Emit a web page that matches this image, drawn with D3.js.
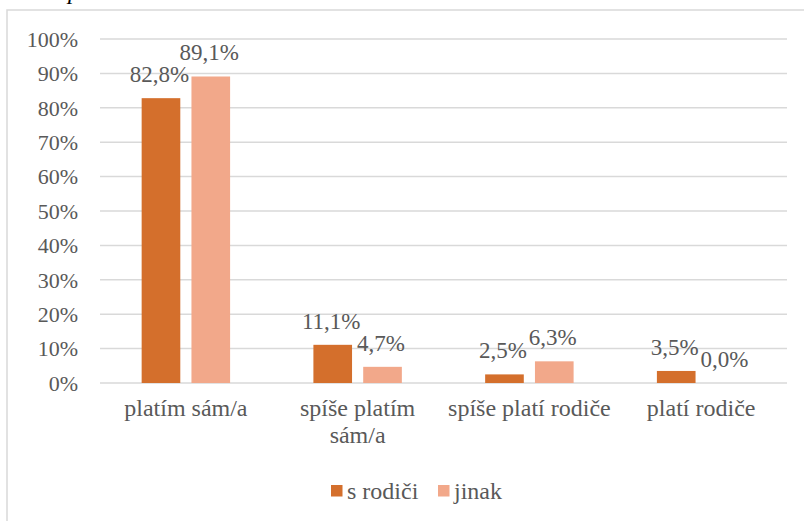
<!DOCTYPE html>
<html><head><meta charset="utf-8">
<script src="https://cdn.jsdelivr.net/npm/d3@7"></script>
<style>
@font-face { font-family: "ChartSerif"; src: local("Liberation Serif"), local("LiberationSerif"), local("LiberationSerif-Regular"), local("Times New Roman"), local("Tinos"); font-style: normal; }
@font-face { font-family: "ChartSerif"; src: local("Liberation Serif Italic"), local("LiberationSerif-Italic"); font-style: italic; }
svg text, svg tspan { font-family: "Liberation Serif", "ChartSerif", "Times New Roman", Tinos, FreeSerif !important; }
</style>
</head>
<body style="margin:0"><svg id="c" width="804" height="521"></svg>
<script>
const categories = [["platím sám/a"], ["spíše platím", "sám/a"], ["spíše platí rodiče"], ["platí rodiče"]];
const seriesNames = ["s rodiči", "jinak"];
const sRodici = [82.8, 11.1, 2.5, 3.5];
const jinak = [89.1, 4.7, 6.3, 0.0];
const yTicks = [0, 10, 20, 30, 40, 50, 60, 70, 80, 90, 100];
const colors = ["#D46F2C", "#F2A88A"];

const svg = d3.select("#c");
const fsTick = 22, fsLab = 23, fsCat = 24, fsLeg = 24;
const FONT = '"Liberation Serif", "ChartSerif", "Times New Roman", Tinos, FreeSerif';
const TXT = "#595959";

// outer border
svg.append("rect").attr("x", 7).attr("y", 10).attr("width", 820).attr("height", 540)
  .attr("fill", "none").attr("stroke", "#d9d9d9").attr("stroke-width", 1.5);

const pLeft = 100, pRight = 787, pTop = 39, pBottom = 383;
const x = d3.scaleBand().domain(d3.range(categories.length)).range([pLeft, pRight]).padding(0);
const y = d3.scaleLinear().domain([0, 100]).range([pBottom, pTop]);

// gridlines
svg.append("g").selectAll("line").data(yTicks).join("line")
  .attr("x1", pLeft).attr("x2", pRight)
  .attr("y1", d => y(d)).attr("y2", d => y(d))
  .attr("stroke", "#d9d9d9").attr("stroke-width", 1.5);

// y axis labels
svg.selectAll(".ytick").data(yTicks).join("text")
  .attr("class", "ytick")
  .attr("x", 78).attr("y", d => y(d)).attr("dy", "0.35em")
  .attr("text-anchor", "end")
  .style("font-family", FONT).attr("font-size", fsTick).attr("fill", TXT)
  .text(d => d + "%");

const bw = x.bandwidth() * 0.225, gap = x.bandwidth() * 0.065;
const series = [sRodici, jinak];
const fmt = v => v.toFixed(1).replace(".", ",") + "%";

series.forEach((vals, si) => {
  const g = svg.append("g");
  const bx = i => {
    const c = x(i) + x.bandwidth() / 2;
    return si === 0 ? c - gap / 2 - bw : c + gap / 2;
  };
  g.selectAll("rect").data(vals).join("rect")
    .attr("x", (d, i) => bx(i)).attr("width", bw)
    .attr("y", d => y(d)).attr("height", d => y(0) - y(d))
    .attr("fill", colors[si]);
  g.selectAll("text").data(vals).join("text")
    .attr("x", (d, i) => bx(i) + bw / 2 - 1.5)
    .attr("y", d => y(d) - 16)
    .attr("text-anchor", "middle")
    .style("font-family", FONT).attr("font-size", fsLab).attr("fill", TXT)
    .text(d => fmt(d));
});

// category labels
categories.forEach((lines, i) => {
  const t = svg.append("text").attr("text-anchor", "middle")
    .style("font-family", FONT).attr("font-size", fsCat).attr("fill", TXT)
    .attr("x", x(i) + x.bandwidth() / 2).attr("y", 416);
  lines.forEach((l, j) => {
    t.append("tspan").attr("x", x(i) + x.bandwidth() / 2).attr("dy", j === 0 ? 0 : 27).text(l);
  });
});

// legend
const legX = [331, 438];
seriesNames.forEach((n, i) => {
  svg.append("rect").attr("x", legX[i]).attr("y", 485).attr("width", 11.5).attr("height", 11.5).attr("fill", colors[i]);
  svg.append("text").attr("x", legX[i] + 16).attr("y", 499)
    .style("font-family", FONT).attr("font-size", fsLeg).attr("fill", TXT).text(n);
});

// cut-off title fragment (only its descender shows, as in the reference)
svg.append("text").attr("x", 68).attr("y", -1).attr("font-size", fsCat).style("font-style", "italic")
  .style("font-family", FONT).attr("fill", "#000").text("p");
</script></body></html>
